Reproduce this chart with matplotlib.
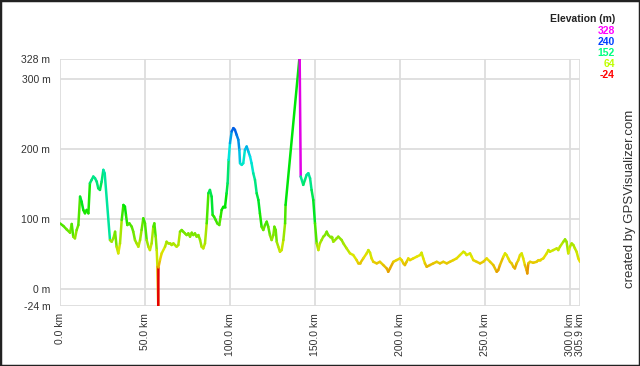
import colorsys
import matplotlib
matplotlib.use("Agg")
import matplotlib.pyplot as plt
from matplotlib.collections import LineCollection
from matplotlib.patches import Rectangle

plt.rcParams['font.family'] = ['Liberation Sans', 'DejaVu Sans']

distance_km = [
    0.0, 2.0, 3.9, 5.9, 6.9, 7.8, 8.8, 9.8, 10.8, 11.8, 12.7, 13.7, 14.7, 15.7, 16.7,
    17.6, 18.6, 19.6, 20.6, 21.6, 22.5, 23.5, 24.5, 25.5, 26.3, 29.4, 30.4, 31.4, 32.4,
    33.3, 34.3, 35.3, 36.3, 37.3, 38.2, 38.8, 39.6, 40.8, 42.2, 43.1, 44.1, 45.1, 46.1,
    47.1, 48.0, 49.0, 50.0, 51.0, 52.0, 52.9, 53.9, 54.9, 55.5, 56.3, 56.9, 57.3, 57.8,
    57.9, 58.8, 59.8, 61.8, 62.7, 63.7, 64.7, 65.7, 66.7, 67.6, 68.6, 69.6, 70.6, 71.6,
    72.5, 73.5, 74.5, 75.5, 76.5, 77.5, 78.4, 79.4, 80.4, 81.4, 82.4, 83.3, 84.3, 85.3,
    86.3, 87.3, 88.2, 89.2, 89.8, 90.6, 91.6, 92.5, 93.7, 94.5, 95.1, 96.1, 97.1, 98.0,
    98.6, 99.2, 100.0, 101.0, 102.0, 102.9, 103.9, 104.9, 105.5, 105.9, 106.9, 107.8,
    108.8, 109.8, 110.8, 111.8, 112.7, 113.7, 114.7, 115.7, 116.7, 117.6, 118.6, 119.6,
    120.6, 121.6, 122.5, 123.5, 124.5, 125.5, 126.1, 126.9, 127.5, 128.4, 129.4, 130.4,
    131.4, 132.4, 132.7, 140.8, 141.0, 141.6, 143.1, 144.1, 145.1, 146.1, 147.1, 148.0,
    149.0, 150.0, 151.0, 152.0, 152.9, 153.9, 154.9, 155.9, 156.9, 157.8, 158.8, 159.8,
    160.8, 161.8, 162.7, 163.7, 165.7, 166.7, 168.6, 170.6, 172.5, 174.5, 175.5, 176.5,
    178.4, 180.4, 181.4, 182.4, 183.3, 184.3, 186.3, 188.2, 190.2, 192.2, 193.1, 194.1,
    196.1, 198.0, 200.0, 201.0, 202.0, 202.9, 203.9, 204.9, 205.9, 207.8, 209.8, 211.8,
    212.7, 213.7, 214.7, 215.7, 217.6, 219.6, 221.6, 223.5, 225.5, 227.5, 229.4, 231.4,
    233.3, 235.3, 237.3, 238.2, 239.2, 241.2, 242.2, 243.1, 245.1, 247.1, 249.0, 251.0,
    253.0, 254.9, 256.9, 257.8, 258.8, 260.8, 261.8, 262.7, 263.7, 264.7, 265.7, 266.7,
    267.6, 268.6, 269.6, 270.6, 271.6, 272.5, 273.5, 274.5, 274.9, 275.5, 276.5, 278.4,
    280.4, 281.4, 282.4, 284.3, 286.3, 287.3, 288.2, 290.2, 292.2, 293.1, 294.1, 296.1,
    297.1, 298.0, 299.0, 300.0, 301.0, 302.0, 302.9, 303.9, 304.9, 305.9,
]
elevation_m = [
    93.8, 90.0, 85.2, 80.5, 92.9, 74.8, 72.4, 84.3, 91.4, 131.9, 124.8, 112.9, 108.1, 112.9, 108.1,
    151.0, 155.7, 160.5, 158.1, 153.3, 143.8, 141.4, 153.3, 170.0, 165.0, 70.0, 67.6, 72.4, 81.9,
    60.5, 51.0, 65.2, 98.6, 120.0, 117.6, 105.7, 91.4, 93.8, 89.0, 81.9, 70.0, 65.2, 60.5,
    70.0, 84.3, 101.0, 93.8, 70.0, 60.5, 55.7, 65.2, 89.0, 93.8, 74.8, 55.7, 31.9, -24.0,
    31.0, 41.4, 51.0, 60.5, 67.6, 65.2, 65.2, 62.9, 65.2, 62.9, 60.5, 62.9, 81.9, 84.3,
    81.9, 79.5, 77.1, 79.5, 74.8, 80.5, 77.1, 79.5, 74.8, 77.1, 70.0, 60.5, 58.1, 65.2,
    93.8, 136.7, 141.4, 131.9, 105.7, 103.3, 98.6, 93.8, 91.4, 103.3, 112.9, 117.6, 117.6, 136.7,
    151.0, 184.3, 208.1, 224.8, 229.5, 227.1, 220.0, 212.9, 198.6, 179.5, 177.1, 179.5,
    198.6, 203.3, 196.2, 189.0, 179.5, 165.2, 155.7, 136.7, 127.1, 108.1, 89.0, 84.3,
    91.4, 96.2, 89.0, 77.1, 70.0, 77.1, 89.0, 84.3, 67.6, 60.5, 53.3, 55.7,
    70.0, 93.8, 120.0, 328.0, 327.0, 160.5, 148.6, 155.7, 162.9, 165.2, 158.1, 141.4,
    127.1, 93.8, 65.2, 55.7, 65.2, 70.0, 74.8, 77.1, 81.9, 77.1, 74.8, 74.8,
    67.6, 70.0, 72.4, 74.8, 70.0, 65.2, 58.1, 51.0, 48.6, 41.4, 36.7, 36.7,
    43.8, 51.0, 55.7, 51.9, 43.8, 39.0, 36.7, 39.0, 34.3, 29.5, 24.8, 29.5,
    39.0, 41.4, 43.8, 41.4, 36.7, 34.3, 39.0, 43.8, 41.4, 43.8, 46.2, 48.6,
    51.9, 43.8, 36.7, 31.9, 34.3, 36.7, 39.0, 36.7, 39.0, 36.7, 39.0, 41.4,
    43.8, 48.6, 53.3, 51.9, 48.6, 51.0, 46.2, 41.4, 39.0, 36.7, 39.0, 43.8,
    39.0, 34.3, 24.8, 27.1, 34.3, 46.2, 51.0, 48.6, 43.8, 39.0, 36.7, 31.9,
    29.5, 36.7, 41.4, 48.6, 51.0, 43.8, 34.3, 27.1, 22.4, 36.7, 39.0, 37.6,
    39.0, 41.4, 41.4, 43.8, 51.0, 55.7, 53.3, 55.7, 58.1, 55.7, 60.5, 67.6,
    71.0, 67.6, 51.0, 60.5, 65.2, 62.9, 58.1, 53.3, 43.8, 39.0,
]

y_ticks = [-24, 0, 100, 200, 300, 328]
y_tick_labels = ["-24 m", "0 m", "100 m", "200 m", "300 m", "328 m"]
x_ticks = [0, 50, 100, 150, 200, 250, 300, 305.9]
x_tick_labels = ["0.0 km", "50.0 km", "100.0 km", "150.0 km", "200.0 km",
                 "250.0 km", "300.0 km", "305.9 km"]
legend_values = [328, 240, 152, 64, -24]
elev_min, elev_max = -24, 328
total_km = 305.9


def elev_color(e, v=0.9):
    t = (e - elev_min) / (elev_max - elev_min)
    t = min(max(t, 0.0), 1.0)
    return colorsys.hsv_to_rgb(t * 300 / 360, 1.0, v)


fig = plt.figure(figsize=(6.4, 3.66), dpi=100)
ax = fig.add_axes([60 / 640, 1 - 306 / 366, 520 / 640, 247 / 366])

segments = []
colors = []
for i in range(len(distance_km) - 1):
    segments.append([(distance_km[i], elevation_m[i]),
                     (distance_km[i + 1], elevation_m[i + 1])])
    colors.append(elev_color(elevation_m[i]))
lc = LineCollection(segments, colors=colors, linewidths=1.8,
                    capstyle='round', joinstyle='round', zorder=3)
ax.add_collection(lc)

ax.set_xlim(0, total_km)
ax.set_ylim(elev_min, elev_max)
ax.set_xticks(x_ticks)
ax.set_xticklabels(x_tick_labels, rotation=90, fontsize=7.5, color='#333333')
ax.set_yticks(y_ticks)
ax.set_yticklabels(y_tick_labels, fontsize=7.5, color='#333333')
ax.tick_params(axis='both', length=0)
ax.tick_params(axis='y', pad=7)
ax.tick_params(axis='x', pad=5)
ax.grid(True, color='#dddddd', linewidth=1.3, zorder=0)
ax.set_axisbelow(True)
for s in ax.spines.values():
    s.set_visible(False)

fig.text(615 / 640, 1 - 19 / 366, "Elevation (m)", ha='right', va='center',
         fontsize=7.5, fontweight='bold', color='#222222')
for k, v in enumerate(legend_values):
    fig.text(615 / 640, 1 - (31 + 11 * k) / 366, str(v), ha='right', va='center',
             fontsize=7.5, fontweight='bold', color=elev_color(v, 1.0))

fig.text(630 / 640, 1 - 199 / 366, "created by GPSVisualizer.com", rotation=90,
         ha='center', va='center', fontsize=9.5, color='#333333')

fig.patches.append(Rectangle((0, 0), 1, 1, transform=fig.transFigure,
                             fill=False, edgecolor='#222222', linewidth=2.5))

fig.savefig("out.png", dpi=100)
